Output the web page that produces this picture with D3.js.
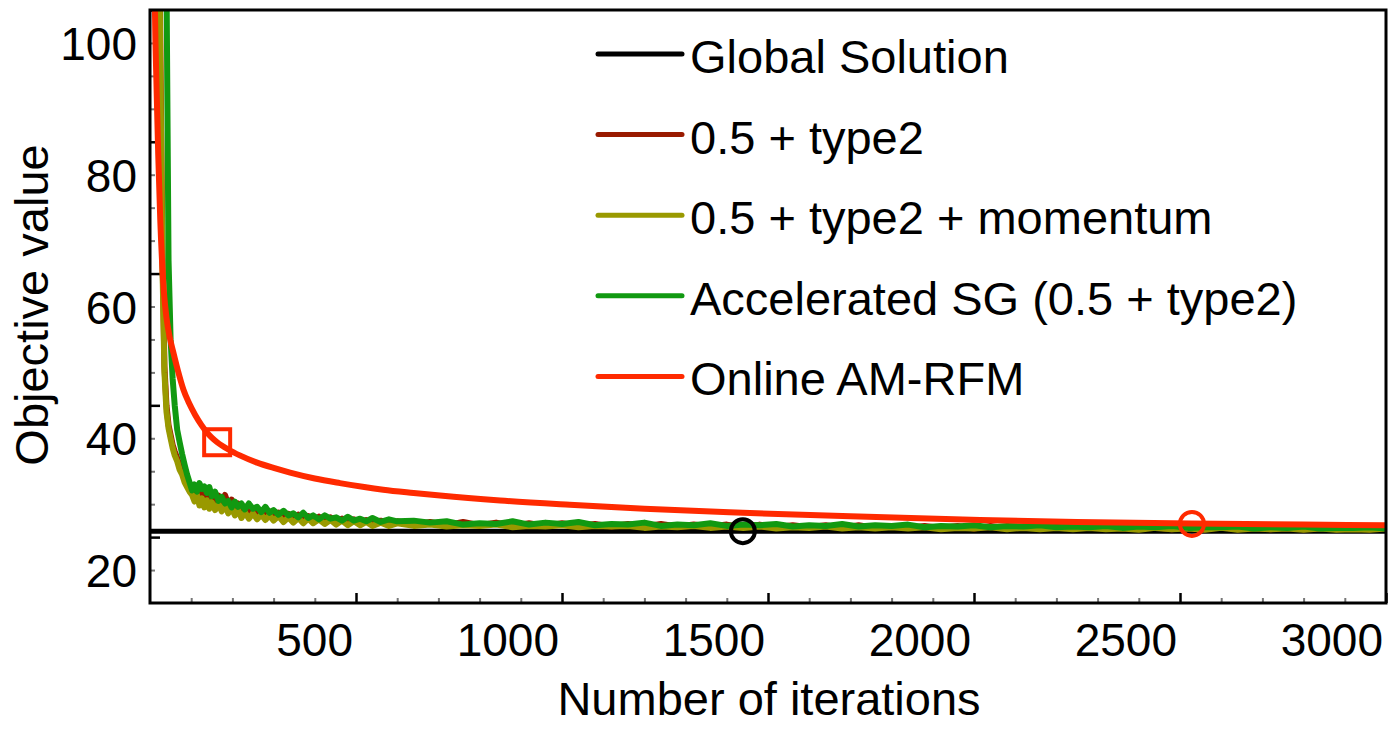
<!DOCTYPE html>
<html>
<head>
<meta charset="utf-8">
<script src="https://cdn.jsdelivr.net/npm/d3@7"></script>
<style>
  body { margin: 0; background: #fff; }
  svg text { font-family: "Liberation Sans", Arial, Helvetica, sans-serif; fill: #000; }
</style>
</head>
<body>
<div id="chart"></div>
<script>
// Reference value of the optimum.
const globalSolution = 20.9;

// Smooth curve of the online method (iteration, objective).
const onlineIter = [8, 12, 16, 20, 25, 30, 34, 40, 48, 56, 68, 81, 95, 110, 125, 138, 150, 163, 190, 218,
  260, 300, 340, 400, 461, 520, 566, 640, 704, 850, 1019, 1200, 1439, 1700, 2015, 2250, 2529, 2800, 3000];
const onlineVal = [125, 100, 88, 78, 68, 61, 57, 53.3, 50.3, 48.2, 45.2, 42.4, 40.3, 38.5, 37.0, 35.9, 35.1, 34.4, 33.3, 32.4,
  31.3, 30.5, 29.8, 28.9, 28.2, 27.6, 27.2, 26.7, 26.3, 25.55, 24.9, 24.3, 23.7, 23.15, 22.6, 22.3, 22.05, 21.9, 21.8];

// Iterations shared by the three stochastic runs.
const noisyIter = [
  20, 25, 30, 35, 40, 45, 50, 55, 60, 66, 72, 78, 84, 90, 96,
  102, 108, 114, 120, 126, 132, 138, 144, 150,
  158, 166, 174, 182, 190, 198, 206, 214, 222, 230,
  240, 250, 260, 270, 280, 290, 300,
  312, 324, 336, 348, 360, 372, 384, 396,
  410, 424, 438, 452, 466, 480, 495, 510, 525, 540,
  560, 580, 600,
  640, 680, 720, 760, 800, 840, 880, 920, 960, 1000,
  1040, 1080, 1120, 1160, 1200, 1240, 1280, 1320, 1360, 1400,
  1440, 1480, 1520, 1560, 1600, 1640, 1680, 1720, 1760, 1800,
  1840, 1880, 1920, 1960, 2000, 2040, 2080, 2120, 2160, 2200,
  2240, 2280, 2320, 2360, 2400, 2440, 2480, 2520, 2560, 2600,
  2640, 2680, 2720, 2760, 2800, 2840, 2880, 2920, 2960, 3000
];

// 0.5 + type2
const type2Val = [
  135, 95, 64, 46, 40, 37, 35.5, 34, 33, 32, 30.8, 29.8, 29.0, 28.0, 27.2,
  26.8, 25.9, 27.0, 25.7, 26.6, 25.3, 26.3, 25.0, 26.0,
  25.0, 26.3, 25.2, 26.4, 25.0, 25.7, 24.3, 25.1, 23.8, 24.6,
  23.5, 24.3, 23.3, 24.0, 23.1, 23.9, 23.0,
  23.7, 22.8, 23.5, 22.7, 23.4, 22.6, 23.2, 22.5,
  23.1, 22.3, 23.0, 22.3, 22.8, 22.1, 22.7, 22.1, 22.6, 22.0,
  22.5, 22.0, 22.4,
  21.9, 22.3, 21.8, 22.3, 21.8, 22.2, 21.7, 22.1, 21.7, 22.1,
  21.7, 22.0, 21.6, 22.0, 21.6, 22.0, 21.6, 21.9, 21.6, 21.9,
  21.5, 21.9, 21.5, 21.8, 21.5, 21.8, 21.4, 21.8, 21.4, 21.7,
  21.4, 21.7, 21.4, 21.7, 21.3, 21.7, 21.3, 21.6, 21.3, 21.6,
  21.3, 21.6, 21.3, 21.6, 21.3, 21.5, 21.2, 21.5, 21.2, 21.5,
  21.2, 21.5, 21.2, 21.5, 21.2, 21.4, 21.2, 21.4, 21.2, 21.4
];

// 0.5 + type2 + momentum
const momentumVal = [
  130, 92, 62, 45, 39, 36.5, 35, 33.5, 32.4, 31.5, 30.2, 29.5, 28.3, 27.6, 26.9,
  26.4, 25.4, 26.4, 24.8, 25.9, 24.5, 25.6, 24.3, 25.3,
  24.1, 25.1, 23.9, 24.9, 23.6, 24.5, 23.3, 24.1, 22.9, 23.8,
  22.8, 23.6, 22.7, 23.4, 22.6, 23.3, 22.5,
  23.2, 22.3, 23.0, 22.2, 22.9, 22.1, 22.8, 22.1,
  22.7, 22.0, 22.6, 21.9, 22.5, 21.8, 22.4, 21.8, 22.3, 21.7,
  22.2, 21.7, 22.1,
  21.7, 21.9, 21.6, 21.8, 21.7, 21.9, 21.5, 21.7, 21.6, 21.8,
  21.5, 21.7, 21.6, 21.7, 21.4, 21.6, 21.5, 21.7, 21.4, 21.6,
  21.4, 21.6, 21.3, 21.5, 21.4, 21.6, 21.3, 21.5, 21.3, 21.5,
  21.3, 21.5, 21.2, 21.4, 21.3, 21.5, 21.2, 21.4, 21.2, 21.4,
  21.2, 21.4, 21.2, 21.3, 21.1, 21.4, 21.2, 21.3, 21.1, 21.4,
  21.1, 21.3, 21.2, 21.3, 21.1, 21.3, 21.1, 21.2, 21.1, 21.3
];

// Accelerated SG (0.5 + type2)
const acceleratedVal = [
  400, 300, 220, 150, 105, 62, 50, 44, 40, 36.3, 34.4, 32.6, 31.0, 29.5, 28.3,
  27.1, 28.0, 26.9, 28.2, 27.3, 27.7, 26.7, 27.6, 26.2,
  26.9, 25.5, 26.1, 25.1, 25.5, 24.5, 25.4, 24.6, 25.1, 24.2,
  25.1, 24.3, 24.6, 23.8, 24.6, 23.7, 24.1,
  23.4, 24.0, 23.3, 23.6, 23.0, 23.7, 22.9, 23.3,
  22.7, 23.3, 22.8, 23.0, 22.5, 23.1, 22.5, 22.8, 22.4, 22.9,
  22.3, 22.7, 22.4,
  22.5, 22.2, 22.4, 21.9, 22.1, 22.0, 22.4, 21.9, 22.2, 22.0,
  22.3, 21.8, 22.0, 21.9, 22.2, 21.7, 21.9, 21.8, 22.1, 21.7,
  21.9, 21.8, 22.0, 21.6, 21.8, 21.7, 22.0, 21.6, 21.8, 21.7,
  21.9, 21.5, 21.7, 21.6, 21.8, 21.5, 21.7, 21.6, 21.8, 21.5,
  21.6, 21.5, 21.7, 21.4, 21.6, 21.5, 21.7, 21.4, 21.5, 21.5,
  21.6, 21.3, 21.5, 21.4, 21.6, 21.3, 21.4, 21.4, 21.5, 21.3
];

// Highlighted points: square on the online curve, circles on global / online.
const squarePoint = [163, 34.4];
const circleIter = [1439, 2529];
const circleVal = [20.9, 22.0];
const circleColor = ["#000000", "#ff2a00"];

// Axes and legend.
const xTickLabels = [500, 1000, 1500, 2000, 2500, 3000];
const yTickLabels = [20, 40, 60, 80, 100];
const legendLabels = ["Global Solution", "0.5 + type2", "0.5 + type2 + momentum",
  "Accelerated SG (0.5 + type2)", "Online AM-RFM"];
const legendColors = ["#000000", "#991a00", "#999900", "#119911", "#ff2a00"];

const W = 1398, H = 754;
const margin = { top: 10, right: 12, bottom: 151, left: 150 };
const fontSize = 46;

const x = d3.scaleLinear().domain([0, 3000]).range([margin.left, W - margin.right]);
const y = d3.scaleLinear().domain([10, 100]).range([H - margin.bottom, margin.top]);

const svg = d3.select("#chart").append("svg")
  .attr("width", W)
  .attr("height", H);

svg.append("defs").append("clipPath")
  .attr("id", "plot-clip")
  .append("rect")
  .attr("x", margin.left)
  .attr("y", margin.top)
  .attr("width", W - margin.left - margin.right)
  .attr("height", H - margin.top - margin.bottom);

// Minor ticks first so the major ones sit on top.
const xMinor = d3.range(100, 3000, 100).filter(v => v % 500 !== 0);
const yMinor = d3.range(15, 100, 5).filter(v => v % 20 !== 0);

svg.append("g")
  .attr("transform", "translate(0," + y.range()[0] + ")")
  .call(d3.axisBottom(x).tickValues(xMinor).tickSize(-5).tickFormat(""))
  .call(g => g.select(".domain").remove())
  .call(g => g.selectAll(".tick line").attr("stroke", "#777").attr("stroke-width", 2));

svg.append("g")
  .attr("transform", "translate(" + x.range()[0] + ",0)")
  .call(d3.axisLeft(y).tickValues(yMinor).tickSize(-5).tickFormat(""))
  .call(g => g.select(".domain").remove())
  .call(g => g.selectAll(".tick line").attr("stroke", "#777").attr("stroke-width", 2));

svg.append("g")
  .attr("transform", "translate(0," + y.range()[0] + ")")
  .call(d3.axisBottom(x).tickValues(xTickLabels).tickSize(-10).tickFormat(""))
  .call(g => g.select(".domain").remove())
  .call(g => g.selectAll(".tick line").attr("stroke", "#000").attr("stroke-width", 2.5));

svg.append("g")
  .attr("transform", "translate(" + x.range()[0] + ",0)")
  .call(d3.axisLeft(y).tickValues(yTickLabels).tickSize(-10).tickFormat(""))
  .call(g => g.select(".domain").remove())
  .call(g => g.selectAll(".tick line").attr("stroke", "#000").attr("stroke-width", 2.5));

// Tick labels sit a little off their ticks in the original figure.
svg.append("g").selectAll("text")
  .data(xTickLabels)
  .join("text")
  .attr("x", d => x(d) - 3)
  .attr("y", 656)
  .attr("text-anchor", "end")
  .style("font-size", fontSize + "px")
  .text(d => d);

svg.append("g").selectAll("text")
  .data(yTickLabels)
  .join("text")
  .attr("x", 137)
  .attr("y", d => y(d) + 50)
  .attr("text-anchor", "end")
  .style("font-size", fontSize + "px")
  .text(d => d);

// Axis titles.
svg.append("text")
  .attr("x", 769)
  .attr("y", 715)
  .attr("text-anchor", "middle")
  .style("font-size", "47px")
  .text("Number of iterations");

svg.append("text")
  .attr("transform", "translate(48,305) rotate(-90)")
  .attr("text-anchor", "middle")
  .style("font-size", "47px")
  .text("Objective value");

// Curves.
const plot = svg.append("g").attr("clip-path", "url(#plot-clip)");

const line = d3.line()
  .x(d => x(d[0]))
  .y(d => y(d[1]));

const zip = (xs, ys) => xs.map((v, i) => [v, ys[i]]);

plot.append("path")
  .attr("d", line([[0, globalSolution], [3000, globalSolution]]))
  .attr("fill", "none")
  .attr("stroke", legendColors[0])
  .attr("stroke-width", 5);

[type2Val, momentumVal, acceleratedVal].forEach((vals, i) => {
  plot.append("path")
    .attr("d", line(zip(noisyIter, vals)))
    .attr("fill", "none")
    .attr("stroke", legendColors[i + 1])
    .attr("stroke-width", 6)
    .attr("stroke-linejoin", "round");
});

plot.append("path")
  .attr("d", line.curve(d3.curveMonotoneX)(zip(onlineIter, onlineVal)))
  .attr("fill", "none")
  .attr("stroke", legendColors[4])
  .attr("stroke-width", 6);

// Markers.
svg.append("rect")
  .attr("x", x(squarePoint[0]) - 13)
  .attr("y", y(squarePoint[1]) - 13)
  .attr("width", 26)
  .attr("height", 26)
  .attr("fill", "none")
  .attr("stroke", "#ff2a00")
  .attr("stroke-width", 4);

svg.append("g").selectAll("circle")
  .data(circleIter)
  .join("circle")
  .attr("cx", d => x(d))
  .attr("cy", (d, i) => y(circleVal[i]))
  .attr("r", 12)
  .attr("fill", "none")
  .attr("stroke", (d, i) => circleColor[i])
  .attr("stroke-width", 4);

// Frame.
svg.append("rect")
  .attr("x", margin.left)
  .attr("y", margin.top)
  .attr("width", W - margin.left - margin.right)
  .attr("height", H - margin.top - margin.bottom)
  .attr("fill", "none")
  .attr("stroke", "#000")
  .attr("stroke-width", 3);

// Legend.
const legend = svg.append("g").selectAll("g")
  .data(legendLabels)
  .join("g")
  .attr("transform", (d, i) => "translate(0," + (54 + i * 80.6) + ")");

legend.append("line")
  .attr("x1", 598)
  .attr("x2", 682)
  .attr("stroke", (d, i) => legendColors[i])
  .attr("stroke-width", 5)
  .attr("stroke-linecap", "round");

legend.append("text")
  .attr("x", 690)
  .attr("y", 19)
  .style("font-size", "47px")
  .text(d => d);
</script>
</body>
</html>
